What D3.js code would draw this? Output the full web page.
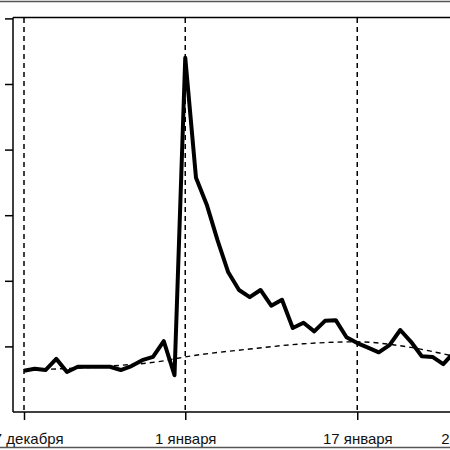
<!DOCTYPE html>
<html><head><meta charset="utf-8">
<script src="https://cdn.jsdelivr.net/npm/d3@7"></script>
<style>body{margin:0;background:#fff}svg{display:block}</style>
</head><body>
<div id="chart"></div>
<script>
// days counted from 17 December
const days = d3.range(0, 41)
const series = [0.63,0.66,0.64,0.81,0.61,0.69,0.69,0.69,0.69,0.64,0.70,0.79,0.84,1.08,0.56,
  5.40,3.57,3.16,2.62,2.13,1.86,1.75,1.86,1.62,1.71,1.28,1.36,1.23,1.39,1.40,1.14,1.05,
  0.98,0.91,1.02,1.25,1.07,0.85,0.84,0.73,0.91]
const trendDays = [0,7,13,15,21,26,31,35,40]
const trend = [0.64,0.69,0.78,0.84,0.96,1.04,1.07,1.01,0.85]
const markDays = [0,15,31,42]
const markLabels = ['17 декабря','1 января','17 января','28 января']
const yTicks = [1,2,3,4,5,6]

const W = 450, H = 450
const svg = d3.select('#chart').append('svg').attr('width', W).attr('height', H)

const x = d3.scaleLinear().domain([0, 40]).range([24, 454])
const y = d3.scaleLinear().domain([0, 6]).range([412, 18.4])

// outer frame lines
svg.append('line').attr('x1',0).attr('x2',W).attr('y1',1.5).attr('y2',1.5).attr('stroke','#555').attr('stroke-width',1.5)
svg.append('line').attr('x1',0).attr('x2',W).attr('y1',447.5).attr('y2',447.5).attr('stroke','#555').attr('stroke-width',1.5)
// plot box top
svg.append('line').attr('x1',13).attr('x2',W).attr('y1',17.5).attr('y2',17.5).attr('stroke','#000').attr('stroke-width',1.5)

// y axis
svg.append('g').attr('transform','translate(13,0)')
  .call(d3.axisLeft(y).tickValues(yTicks).tickSize(8).tickFormat(''))
  .call(g => g.select('.domain').attr('d','M0,17.5V412').attr('stroke-width',1.5))
  .call(g => g.selectAll('.tick line').attr('stroke-width',1.5))

// x axis
svg.append('g').attr('transform','translate(0,412)')
  .call(d3.axisBottom(x).tickValues(markDays).tickSize(8).tickFormat((d,i) => markLabels[i]))
  .call(g => g.select('.domain').attr('d','M13,0H' + W).attr('stroke-width',1.5))
  .call(g => g.selectAll('.tick line').attr('stroke-width',1.5))
  .call(g => g.selectAll('.tick text').attr('y',21).attr('font-family','Liberation Sans, Arial, sans-serif').attr('font-size',15).attr('fill','#111'))

// vertical dashed markers
svg.selectAll('.mark').data(markDays).enter().append('line')
  .attr('x1', d => x(d)).attr('x2', d => x(d)).attr('y1', 18).attr('y2', 412)
  .attr('stroke','#000').attr('stroke-width',1.5).attr('stroke-dasharray','5,4')

// trend
svg.append('path').datum(trendDays.map((d,i) => [d, trend[i]]))
  .attr('fill','none').attr('stroke','#000').attr('stroke-width',1.4).attr('stroke-dasharray','5,4')
  .attr('d', d3.line().x(d => x(d[0])).y(d => y(d[1])).curve(d3.curveMonotoneX))

// main series
svg.append('path').datum(days.map((d,i) => [d, series[i]]))
  .attr('fill','none').attr('stroke','#000').attr('stroke-width',4).attr('stroke-linejoin','round')
  .attr('d', d3.line().x(d => x(d[0])).y(d => y(d[1])))
</script>
</body></html>
